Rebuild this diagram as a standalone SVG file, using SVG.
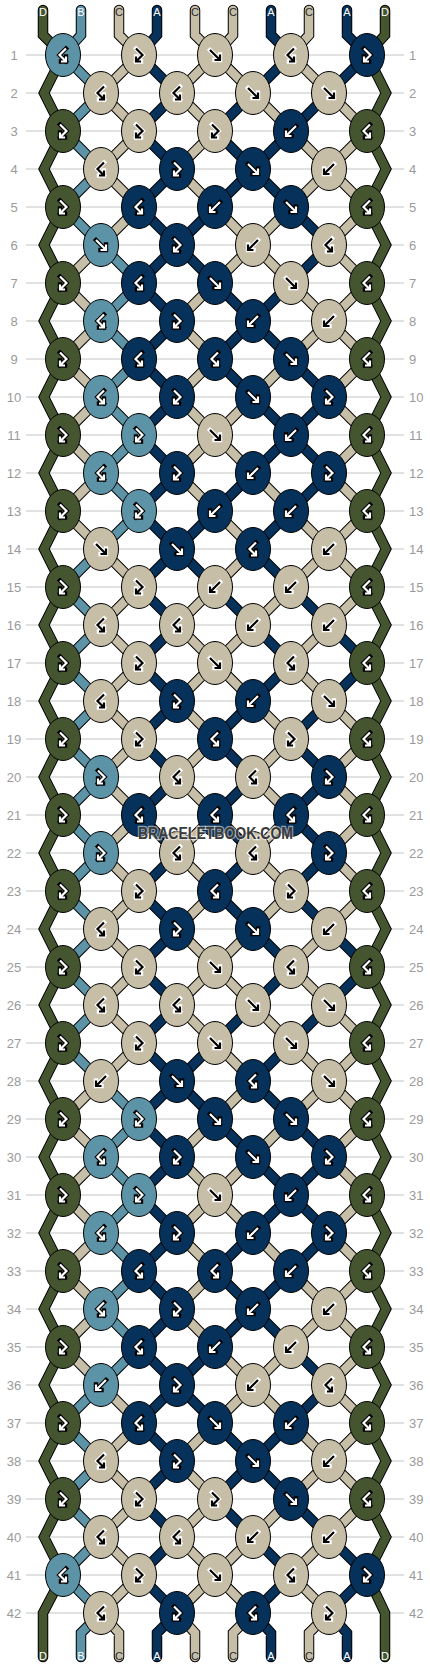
<svg xmlns="http://www.w3.org/2000/svg" width="430" height="1668" viewBox="0 0 430 1668">
<style>
text{font-family:"Liberation Sans",Arial,sans-serif}
.rl{fill:none;stroke:#c4c4c4;stroke-width:1}
.num{fill:#9a9a9a;font-size:13px}
.nl{text-anchor:middle}
.ol{fill:none;stroke:#000;stroke-width:10.5;stroke-linecap:round;stroke-linejoin:miter}
.sA,.sB,.sC,.sD{fill:none;stroke-width:8.5;stroke-linecap:round;stroke-linejoin:miter}
.sA{stroke:#06315a}.sB{stroke:#5c93a6}.sC{stroke:#c6bea7}.sD{stroke:#445530}
#nodes ellipse{stroke:#000;stroke-width:1}
.A ellipse{fill:#06315a}.B ellipse{fill:#5c93a6}.C ellipse{fill:#c6bea7}.D ellipse{fill:#445530}
#nodes use{fill:none;stroke-linejoin:miter}
#nodes use.o{stroke-width:4.4;stroke-linecap:square}
#nodes use.i{stroke-width:2.2;stroke-linecap:butt}
.A .o,.B .o,.D .o{stroke:#000}.A .i,.B .i,.D .i{stroke:#fff}
.C .o{stroke:#fff}.C .i{stroke:#000}
.lbl{font-size:11px;text-anchor:middle}
.lw{fill:#fff}.ld{fill:#2a2a2a}
.wm{font-size:16px;font-weight:bold;fill:#3a3a3a;stroke:#fff;stroke-opacity:.55;stroke-width:2.5;paint-order:stroke;text-anchor:middle}
</style>
<defs>
<path id="gF" d="M-5-5L4.5 4.5M5-.5V5H-.5"/>
<path id="gK" d="M5-5L-4.5 4.5M-5-.5V5H.5"/>
<path id="gR" d="M-3-6.5L3.5 0-3 6.5M-3 1.5V6.5H2"/>
<path id="gL" d="M3-6.5L-3.5 0 3 6.5M3 1.5V6.5H-2"/>
<path id="cA" d="M157 10V35L139 55
M139 55l38 38-38 38 38 38-38 38 38 38-38 38 38 38-38 38 38 38-38 38
M139 435l38 38-38 38 38 38-38 38 38 38-38 38 38 38-38 38 38 38-38 38
M139 815l38 38-38 38 38 38-38 38 38 38-38 38 38 38-38 38 38 38-38 38
M139 1195l38 38-38 38 38 38-38 38 38 38-38 38 38 38-38 38 38 38-38 38
M139 1575L177 1613l-20 20v24
M215 207l-38 38 38 38M215 511l-38 38 38 38M215 1043l-38 38 38 38M215 1347l-38 38 38 38
M253 93l-38 38 38 38-38 38M215 283l38 38-38 38 38 38M253 473l-38 38M215 587l38 38M253 701l-38 38 38 38-38 38 38 38-38 38 38 38M253 1005l-38 38M215 1119l38 38M253 1233l-38 38 38 38-38 38M215 1423l38 38-38 38 38 38
M271 10V35L291 55l-38 38M291 131l-38 38 38 38M291 283l-38 38 38 38M253 397l38 38-38 38M291 511l-38 38 38 38M253 625l38 38-38 38M253 929l38 38-38 38M291 1043l-38 38 38 38M253 1157l38 38-38 38M291 1271l-38 38 38 38M291 1423l-38 38 38 38M253 1537l38 38-38 38l18 20v24
M329 93l-38 38M291 207l38 38-38 38M291 359l38 38-38 38 38 38-38 38M291 587l38 38M329 701l-38 38 38 38-38 38 38 38-38 38 38 38M329 1005l-38 38M291 1119l38 38-38 38 38 38-38 38M291 1347l38 38-38 38M291 1499l38 38
M347 10V35L367 55l-38 38M329 625l38 38-38 38M329 929l38 38-38 38M329 1537l38 38-38 38l18 20v24"/>
<path id="cB" d="M81 10V35L63 55l38 38-38 38 38 38-38 38 38 38
M101 549l-38 38 38 38-38 38 38 38-38 38 38 38-38 38 38 38-38 38 38 38-38 38 38 38-38 38 38 38
M101 1385l-38 38 38 38-38 38 38 38-38 38 38 38l-20 20v24
M101 245l38 38-38 38 38 38-38 38 38 38-38 38 38 38-38 38
M101 1081l38 38-38 38 38 38-38 38 38 38-38 38 38 38-38 38"/>
<path id="cC" d="M101 245l-38 38 38 38-38 38 38 38-38 38 38 38-38 38 38 38M101 1081l-38 38 38 38-38 38 38 38-38 38 38 38-38 38 38 38
M119 10V35L139 55l-38 38 38 38-38 38 38 38-38 38
M101 549l38 38-38 38 38 38-38 38 38 38-38 38 38 38-38 38 38 38-38 38 38 38-38 38 38 38-38 38
M101 1385l38 38-38 38 38 38-38 38 38 38-38 38l18 20v24
M195 10V35L215 55l-38 38 38 38-38 38 38 38M215 283l-38 38 38 38-38 38 38 38-38 38 38 38
M215 587l-38 38 38 38-38 38 38 38-38 38 38 38-38 38 38 38-38 38 38 38-38 38 38 38
M215 1119l-38 38 38 38-38 38 38 38-38 38 38 38M215 1423l-38 38 38 38-38 38 38 38-38 38l18 20v24
M233 10V35L215 55l38 38M215 207l38 38-38 38M253 397l-38 38 38 38M215 511l38 38-38 38M253 625l-38 38 38 38M253 929l-38 38 38 38M215 1043l38 38-38 38M253 1157l-38 38 38 38M215 1347l38 38-38 38M253 1537l-38 38 38 38l-20 20v24
M253 93l38 38M291 207l-38 38 38 38M291 359l-38 38M253 473l38 38M291 587l-38 38M253 701l38 38-38 38 38 38-38 38 38 38-38 38M253 1005l38 38M291 1119l-38 38M253 1233l38 38M291 1347l-38 38 38 38M291 1499l-38 38
M309 10V35L291 55l38 38M291 131l38 38-38 38M291 283l38 38-38 38M291 511l38 38-38 38M329 625l-38 38 38 38M329 929l-38 38 38 38M291 1043l38 38-38 38M291 1271l38 38-38 38M291 1423l38 38-38 38M329 1537l-38 38 38 38l-20 20v24
M329 93l38 38-38 38 38 38-38 38 38 38-38 38 38 38-38 38 38 38-38 38 38 38-38 38 38 38-38 38
M329 701l38 38-38 38 38 38-38 38 38 38-38 38
M329 1005l38 38-38 38 38 38-38 38 38 38-38 38 38 38-38 38 38 38-38 38 38 38-38 38 38 38-38 38"/>
<path id="cD" d="M43 10V35L63 55l-19 38 19 38-19 38 19 38-19 38 19 38-19 38 19 38-19 38 19 38-19 38 19 38-19 38 19 38-19 38 19 38-19 38 19 38-19 38 19 38-19 38 19 38-19 38 19 38-19 38 19 38-19 38 19 38-19 38 19 38-19 38 19 38-19 38 19 38-19 38 19 38-19 38 19 38-19 38 19 38L43 1613V1657
M385 10V35L367 55l19 38-19 38 19 38-19 38 19 38-19 38 19 38-19 38 19 38-19 38 19 38-19 38 19 38-19 38 19 38-19 38 19 38-19 38 19 38-19 38 19 38-19 38 19 38-19 38 19 38-19 38 19 38-19 38 19 38-19 38 19 38-19 38 19 38-19 38 19 38-19 38 19 38-19 38 19 38-19 38L385 1613V1657"/>
</defs>
<rect width="430" height="1668" fill="#fff"/>
<g id="grid">
<path class="rl" d="M26 55H404M26 93H404M26 131H404M26 169H404M26 207H404M26 245H404M26 283H404M26 321H404M26 359H404M26 397H404M26 435H404M26 473H404M26 511H404M26 549H404M26 587H404M26 625H404M26 663H404M26 701H404M26 739H404M26 777H404M26 815H404M26 853H404M26 891H404M26 929H404M26 967H404M26 1005H404M26 1043H404M26 1081H404M26 1119H404M26 1157H404M26 1195H404M26 1233H404M26 1271H404M26 1309H404M26 1347H404M26 1385H404M26 1423H404M26 1461H404M26 1499H404M26 1537H404M26 1575H404M26 1613H404"/>
<g class="num nl">
<text x="14" y="59.5">1</text><text x="14" y="97.5">2</text><text x="14" y="135.5">3</text><text x="14" y="173.5">4</text><text x="14" y="211.5">5</text><text x="14" y="249.5">6</text><text x="14" y="287.5">7</text><text x="14" y="325.5">8</text><text x="14" y="363.5">9</text><text x="14" y="401.5">10</text><text x="14" y="439.5">11</text><text x="14" y="477.5">12</text><text x="14" y="515.5">13</text><text x="14" y="553.5">14</text><text x="14" y="591.5">15</text><text x="14" y="629.5">16</text><text x="14" y="667.5">17</text><text x="14" y="705.5">18</text><text x="14" y="743.5">19</text><text x="14" y="781.5">20</text><text x="14" y="819.5">21</text><text x="14" y="857.5">22</text><text x="14" y="895.5">23</text><text x="14" y="933.5">24</text><text x="14" y="971.5">25</text><text x="14" y="1009.5">26</text><text x="14" y="1047.5">27</text><text x="14" y="1085.5">28</text><text x="14" y="1123.5">29</text><text x="14" y="1161.5">30</text><text x="14" y="1199.5">31</text><text x="14" y="1237.5">32</text><text x="14" y="1275.5">33</text><text x="14" y="1313.5">34</text><text x="14" y="1351.5">35</text><text x="14" y="1389.5">36</text><text x="14" y="1427.5">37</text><text x="14" y="1465.5">38</text><text x="14" y="1503.5">39</text><text x="14" y="1541.5">40</text><text x="14" y="1579.5">41</text><text x="14" y="1617.5">42</text>
</g>
<g class="num">
<text x="409" y="59.5">1</text><text x="409" y="97.5">2</text><text x="409" y="135.5">3</text><text x="409" y="173.5">4</text><text x="409" y="211.5">5</text><text x="409" y="249.5">6</text><text x="409" y="287.5">7</text><text x="409" y="325.5">8</text><text x="409" y="363.5">9</text><text x="409" y="401.5">10</text><text x="409" y="439.5">11</text><text x="409" y="477.5">12</text><text x="409" y="515.5">13</text><text x="409" y="553.5">14</text><text x="409" y="591.5">15</text><text x="409" y="629.5">16</text><text x="409" y="667.5">17</text><text x="409" y="705.5">18</text><text x="409" y="743.5">19</text><text x="409" y="781.5">20</text><text x="409" y="819.5">21</text><text x="409" y="857.5">22</text><text x="409" y="895.5">23</text><text x="409" y="933.5">24</text><text x="409" y="971.5">25</text><text x="409" y="1009.5">26</text><text x="409" y="1047.5">27</text><text x="409" y="1085.5">28</text><text x="409" y="1123.5">29</text><text x="409" y="1161.5">30</text><text x="409" y="1199.5">31</text><text x="409" y="1237.5">32</text><text x="409" y="1275.5">33</text><text x="409" y="1313.5">34</text><text x="409" y="1351.5">35</text><text x="409" y="1389.5">36</text><text x="409" y="1427.5">37</text><text x="409" y="1465.5">38</text><text x="409" y="1503.5">39</text><text x="409" y="1541.5">40</text><text x="409" y="1579.5">41</text><text x="409" y="1617.5">42</text>
</g>
</g>
<g id="connectors">
<use href="#cD" class="ol"/><use href="#cA" class="ol"/><use href="#cB" class="ol"/><use href="#cC" class="ol"/>
<use href="#cD" class="sD"/><use href="#cA" class="sA"/><use href="#cB" class="sB"/><use href="#cC" class="sC"/>
</g>
<g id="strand-labels" class="lbl">
<text class="lw" x="43" y="16">D</text><text class="lw" x="81" y="16">B</text><text class="ld" x="119" y="16">C</text><text class="lw" x="157" y="16">A</text><text class="ld" x="195" y="16">C</text><text class="ld" x="233" y="16">C</text><text class="lw" x="271" y="16">A</text><text class="ld" x="309" y="16">C</text><text class="lw" x="347" y="16">A</text><text class="lw" x="385" y="16">D</text>
<text class="lw" x="43" y="1660">D</text><text class="lw" x="81" y="1660">B</text><text class="ld" x="119" y="1660">C</text><text class="lw" x="157" y="1660">A</text><text class="ld" x="195" y="1660">C</text><text class="ld" x="233" y="1660">C</text><text class="lw" x="271" y="1660">A</text><text class="ld" x="309" y="1660">C</text><text class="lw" x="347" y="1660">A</text><text class="lw" x="385" y="1660">D</text>
</g>
<g id="nodes">
<g id="n1_1" class="B" transform="translate(63 55)"><ellipse rx="17.5" ry="21.5"/><use href="#gL" class="o"/><use href="#gL" class="i"/></g>
<g id="n1_2" class="C" transform="translate(139 55)"><ellipse rx="17.5" ry="21.5"/><use href="#gR" class="o"/><use href="#gR" class="i"/></g>
<g id="n1_3" class="C" transform="translate(215 55)"><ellipse rx="17.5" ry="21.5"/><use href="#gF" class="o"/><use href="#gF" class="i"/></g>
<g id="n1_4" class="C" transform="translate(291 55)"><ellipse rx="17.5" ry="21.5"/><use href="#gL" class="o"/><use href="#gL" class="i"/></g>
<g id="n1_5" class="A" transform="translate(367 55)"><ellipse rx="17.5" ry="21.5"/><use href="#gR" class="o"/><use href="#gR" class="i"/></g>
<g id="n2_1" class="C" transform="translate(101 93)"><ellipse rx="17.5" ry="21.5"/><use href="#gL" class="o"/><use href="#gL" class="i"/></g>
<g id="n2_2" class="C" transform="translate(177 93)"><ellipse rx="17.5" ry="21.5"/><use href="#gL" class="o"/><use href="#gL" class="i"/></g>
<g id="n2_3" class="C" transform="translate(253 93)"><ellipse rx="17.5" ry="21.5"/><use href="#gF" class="o"/><use href="#gF" class="i"/></g>
<g id="n2_4" class="C" transform="translate(329 93)"><ellipse rx="17.5" ry="21.5"/><use href="#gF" class="o"/><use href="#gF" class="i"/></g>
<g id="n3_1" class="D" transform="translate(63 131)"><ellipse rx="17.5" ry="21.5"/><use href="#gR" class="o"/><use href="#gR" class="i"/></g>
<g id="n3_2" class="C" transform="translate(139 131)"><ellipse rx="17.5" ry="21.5"/><use href="#gR" class="o"/><use href="#gR" class="i"/></g>
<g id="n3_3" class="C" transform="translate(215 131)"><ellipse rx="17.5" ry="21.5"/><use href="#gR" class="o"/><use href="#gR" class="i"/></g>
<g id="n3_4" class="A" transform="translate(291 131)"><ellipse rx="17.5" ry="21.5"/><use href="#gK" class="o"/><use href="#gK" class="i"/></g>
<g id="n3_5" class="D" transform="translate(367 131)"><ellipse rx="17.5" ry="21.5"/><use href="#gL" class="o"/><use href="#gL" class="i"/></g>
<g id="n4_1" class="C" transform="translate(101 169)"><ellipse rx="17.5" ry="21.5"/><use href="#gL" class="o"/><use href="#gL" class="i"/></g>
<g id="n4_2" class="A" transform="translate(177 169)"><ellipse rx="17.5" ry="21.5"/><use href="#gR" class="o"/><use href="#gR" class="i"/></g>
<g id="n4_3" class="A" transform="translate(253 169)"><ellipse rx="17.5" ry="21.5"/><use href="#gF" class="o"/><use href="#gF" class="i"/></g>
<g id="n4_4" class="C" transform="translate(329 169)"><ellipse rx="17.5" ry="21.5"/><use href="#gK" class="o"/><use href="#gK" class="i"/></g>
<g id="n5_1" class="D" transform="translate(63 207)"><ellipse rx="17.5" ry="21.5"/><use href="#gR" class="o"/><use href="#gR" class="i"/></g>
<g id="n5_2" class="A" transform="translate(139 207)"><ellipse rx="17.5" ry="21.5"/><use href="#gL" class="o"/><use href="#gL" class="i"/></g>
<g id="n5_3" class="A" transform="translate(215 207)"><ellipse rx="17.5" ry="21.5"/><use href="#gK" class="o"/><use href="#gK" class="i"/></g>
<g id="n5_4" class="A" transform="translate(291 207)"><ellipse rx="17.5" ry="21.5"/><use href="#gF" class="o"/><use href="#gF" class="i"/></g>
<g id="n5_5" class="D" transform="translate(367 207)"><ellipse rx="17.5" ry="21.5"/><use href="#gL" class="o"/><use href="#gL" class="i"/></g>
<g id="n6_1" class="B" transform="translate(101 245)"><ellipse rx="17.5" ry="21.5"/><use href="#gF" class="o"/><use href="#gF" class="i"/></g>
<g id="n6_2" class="A" transform="translate(177 245)"><ellipse rx="17.5" ry="21.5"/><use href="#gR" class="o"/><use href="#gR" class="i"/></g>
<g id="n6_3" class="C" transform="translate(253 245)"><ellipse rx="17.5" ry="21.5"/><use href="#gK" class="o"/><use href="#gK" class="i"/></g>
<g id="n6_4" class="C" transform="translate(329 245)"><ellipse rx="17.5" ry="21.5"/><use href="#gL" class="o"/><use href="#gL" class="i"/></g>
<g id="n7_1" class="D" transform="translate(63 283)"><ellipse rx="17.5" ry="21.5"/><use href="#gR" class="o"/><use href="#gR" class="i"/></g>
<g id="n7_2" class="A" transform="translate(139 283)"><ellipse rx="17.5" ry="21.5"/><use href="#gL" class="o"/><use href="#gL" class="i"/></g>
<g id="n7_3" class="A" transform="translate(215 283)"><ellipse rx="17.5" ry="21.5"/><use href="#gF" class="o"/><use href="#gF" class="i"/></g>
<g id="n7_4" class="C" transform="translate(291 283)"><ellipse rx="17.5" ry="21.5"/><use href="#gF" class="o"/><use href="#gF" class="i"/></g>
<g id="n7_5" class="D" transform="translate(367 283)"><ellipse rx="17.5" ry="21.5"/><use href="#gL" class="o"/><use href="#gL" class="i"/></g>
<g id="n8_1" class="B" transform="translate(101 321)"><ellipse rx="17.5" ry="21.5"/><use href="#gL" class="o"/><use href="#gL" class="i"/></g>
<g id="n8_2" class="A" transform="translate(177 321)"><ellipse rx="17.5" ry="21.5"/><use href="#gR" class="o"/><use href="#gR" class="i"/></g>
<g id="n8_3" class="A" transform="translate(253 321)"><ellipse rx="17.5" ry="21.5"/><use href="#gK" class="o"/><use href="#gK" class="i"/></g>
<g id="n8_4" class="C" transform="translate(329 321)"><ellipse rx="17.5" ry="21.5"/><use href="#gK" class="o"/><use href="#gK" class="i"/></g>
<g id="n9_1" class="D" transform="translate(63 359)"><ellipse rx="17.5" ry="21.5"/><use href="#gR" class="o"/><use href="#gR" class="i"/></g>
<g id="n9_2" class="A" transform="translate(139 359)"><ellipse rx="17.5" ry="21.5"/><use href="#gL" class="o"/><use href="#gL" class="i"/></g>
<g id="n9_3" class="A" transform="translate(215 359)"><ellipse rx="17.5" ry="21.5"/><use href="#gL" class="o"/><use href="#gL" class="i"/></g>
<g id="n9_4" class="A" transform="translate(291 359)"><ellipse rx="17.5" ry="21.5"/><use href="#gF" class="o"/><use href="#gF" class="i"/></g>
<g id="n9_5" class="D" transform="translate(367 359)"><ellipse rx="17.5" ry="21.5"/><use href="#gL" class="o"/><use href="#gL" class="i"/></g>
<g id="n10_1" class="B" transform="translate(101 397)"><ellipse rx="17.5" ry="21.5"/><use href="#gL" class="o"/><use href="#gL" class="i"/></g>
<g id="n10_2" class="A" transform="translate(177 397)"><ellipse rx="17.5" ry="21.5"/><use href="#gR" class="o"/><use href="#gR" class="i"/></g>
<g id="n10_3" class="A" transform="translate(253 397)"><ellipse rx="17.5" ry="21.5"/><use href="#gF" class="o"/><use href="#gF" class="i"/></g>
<g id="n10_4" class="A" transform="translate(329 397)"><ellipse rx="17.5" ry="21.5"/><use href="#gR" class="o"/><use href="#gR" class="i"/></g>
<g id="n11_1" class="D" transform="translate(63 435)"><ellipse rx="17.5" ry="21.5"/><use href="#gR" class="o"/><use href="#gR" class="i"/></g>
<g id="n11_2" class="B" transform="translate(139 435)"><ellipse rx="17.5" ry="21.5"/><use href="#gR" class="o"/><use href="#gR" class="i"/></g>
<g id="n11_3" class="C" transform="translate(215 435)"><ellipse rx="17.5" ry="21.5"/><use href="#gF" class="o"/><use href="#gF" class="i"/></g>
<g id="n11_4" class="A" transform="translate(291 435)"><ellipse rx="17.5" ry="21.5"/><use href="#gK" class="o"/><use href="#gK" class="i"/></g>
<g id="n11_5" class="D" transform="translate(367 435)"><ellipse rx="17.5" ry="21.5"/><use href="#gL" class="o"/><use href="#gL" class="i"/></g>
<g id="n12_1" class="B" transform="translate(101 473)"><ellipse rx="17.5" ry="21.5"/><use href="#gL" class="o"/><use href="#gL" class="i"/></g>
<g id="n12_2" class="A" transform="translate(177 473)"><ellipse rx="17.5" ry="21.5"/><use href="#gR" class="o"/><use href="#gR" class="i"/></g>
<g id="n12_3" class="A" transform="translate(253 473)"><ellipse rx="17.5" ry="21.5"/><use href="#gK" class="o"/><use href="#gK" class="i"/></g>
<g id="n12_4" class="A" transform="translate(329 473)"><ellipse rx="17.5" ry="21.5"/><use href="#gR" class="o"/><use href="#gR" class="i"/></g>
<g id="n13_1" class="D" transform="translate(63 511)"><ellipse rx="17.5" ry="21.5"/><use href="#gR" class="o"/><use href="#gR" class="i"/></g>
<g id="n13_2" class="B" transform="translate(139 511)"><ellipse rx="17.5" ry="21.5"/><use href="#gR" class="o"/><use href="#gR" class="i"/></g>
<g id="n13_3" class="A" transform="translate(215 511)"><ellipse rx="17.5" ry="21.5"/><use href="#gK" class="o"/><use href="#gK" class="i"/></g>
<g id="n13_4" class="A" transform="translate(291 511)"><ellipse rx="17.5" ry="21.5"/><use href="#gK" class="o"/><use href="#gK" class="i"/></g>
<g id="n13_5" class="D" transform="translate(367 511)"><ellipse rx="17.5" ry="21.5"/><use href="#gL" class="o"/><use href="#gL" class="i"/></g>
<g id="n14_1" class="C" transform="translate(101 549)"><ellipse rx="17.5" ry="21.5"/><use href="#gF" class="o"/><use href="#gF" class="i"/></g>
<g id="n14_2" class="A" transform="translate(177 549)"><ellipse rx="17.5" ry="21.5"/><use href="#gF" class="o"/><use href="#gF" class="i"/></g>
<g id="n14_3" class="A" transform="translate(253 549)"><ellipse rx="17.5" ry="21.5"/><use href="#gL" class="o"/><use href="#gL" class="i"/></g>
<g id="n14_4" class="C" transform="translate(329 549)"><ellipse rx="17.5" ry="21.5"/><use href="#gK" class="o"/><use href="#gK" class="i"/></g>
<g id="n15_1" class="D" transform="translate(63 587)"><ellipse rx="17.5" ry="21.5"/><use href="#gR" class="o"/><use href="#gR" class="i"/></g>
<g id="n15_2" class="C" transform="translate(139 587)"><ellipse rx="17.5" ry="21.5"/><use href="#gR" class="o"/><use href="#gR" class="i"/></g>
<g id="n15_3" class="C" transform="translate(215 587)"><ellipse rx="17.5" ry="21.5"/><use href="#gK" class="o"/><use href="#gK" class="i"/></g>
<g id="n15_4" class="C" transform="translate(291 587)"><ellipse rx="17.5" ry="21.5"/><use href="#gK" class="o"/><use href="#gK" class="i"/></g>
<g id="n15_5" class="D" transform="translate(367 587)"><ellipse rx="17.5" ry="21.5"/><use href="#gL" class="o"/><use href="#gL" class="i"/></g>
<g id="n16_1" class="C" transform="translate(101 625)"><ellipse rx="17.5" ry="21.5"/><use href="#gL" class="o"/><use href="#gL" class="i"/></g>
<g id="n16_2" class="C" transform="translate(177 625)"><ellipse rx="17.5" ry="21.5"/><use href="#gL" class="o"/><use href="#gL" class="i"/></g>
<g id="n16_3" class="C" transform="translate(253 625)"><ellipse rx="17.5" ry="21.5"/><use href="#gK" class="o"/><use href="#gK" class="i"/></g>
<g id="n16_4" class="C" transform="translate(329 625)"><ellipse rx="17.5" ry="21.5"/><use href="#gK" class="o"/><use href="#gK" class="i"/></g>
<g id="n17_1" class="D" transform="translate(63 663)"><ellipse rx="17.5" ry="21.5"/><use href="#gR" class="o"/><use href="#gR" class="i"/></g>
<g id="n17_2" class="C" transform="translate(139 663)"><ellipse rx="17.5" ry="21.5"/><use href="#gR" class="o"/><use href="#gR" class="i"/></g>
<g id="n17_3" class="C" transform="translate(215 663)"><ellipse rx="17.5" ry="21.5"/><use href="#gF" class="o"/><use href="#gF" class="i"/></g>
<g id="n17_4" class="C" transform="translate(291 663)"><ellipse rx="17.5" ry="21.5"/><use href="#gL" class="o"/><use href="#gL" class="i"/></g>
<g id="n17_5" class="D" transform="translate(367 663)"><ellipse rx="17.5" ry="21.5"/><use href="#gL" class="o"/><use href="#gL" class="i"/></g>
<g id="n18_1" class="C" transform="translate(101 701)"><ellipse rx="17.5" ry="21.5"/><use href="#gL" class="o"/><use href="#gL" class="i"/></g>
<g id="n18_2" class="A" transform="translate(177 701)"><ellipse rx="17.5" ry="21.5"/><use href="#gR" class="o"/><use href="#gR" class="i"/></g>
<g id="n18_3" class="A" transform="translate(253 701)"><ellipse rx="17.5" ry="21.5"/><use href="#gK" class="o"/><use href="#gK" class="i"/></g>
<g id="n18_4" class="C" transform="translate(329 701)"><ellipse rx="17.5" ry="21.5"/><use href="#gF" class="o"/><use href="#gF" class="i"/></g>
<g id="n19_1" class="D" transform="translate(63 739)"><ellipse rx="17.5" ry="21.5"/><use href="#gR" class="o"/><use href="#gR" class="i"/></g>
<g id="n19_2" class="C" transform="translate(139 739)"><ellipse rx="17.5" ry="21.5"/><use href="#gR" class="o"/><use href="#gR" class="i"/></g>
<g id="n19_3" class="A" transform="translate(215 739)"><ellipse rx="17.5" ry="21.5"/><use href="#gL" class="o"/><use href="#gL" class="i"/></g>
<g id="n19_4" class="C" transform="translate(291 739)"><ellipse rx="17.5" ry="21.5"/><use href="#gR" class="o"/><use href="#gR" class="i"/></g>
<g id="n19_5" class="D" transform="translate(367 739)"><ellipse rx="17.5" ry="21.5"/><use href="#gL" class="o"/><use href="#gL" class="i"/></g>
<g id="n20_1" class="B" transform="translate(101 777)"><ellipse rx="17.5" ry="21.5"/><use href="#gR" class="o"/><use href="#gR" class="i"/></g>
<g id="n20_2" class="C" transform="translate(177 777)"><ellipse rx="17.5" ry="21.5"/><use href="#gL" class="o"/><use href="#gL" class="i"/></g>
<g id="n20_3" class="C" transform="translate(253 777)"><ellipse rx="17.5" ry="21.5"/><use href="#gL" class="o"/><use href="#gL" class="i"/></g>
<g id="n20_4" class="A" transform="translate(329 777)"><ellipse rx="17.5" ry="21.5"/><use href="#gR" class="o"/><use href="#gR" class="i"/></g>
<g id="n21_1" class="D" transform="translate(63 815)"><ellipse rx="17.5" ry="21.5"/><use href="#gR" class="o"/><use href="#gR" class="i"/></g>
<g id="n21_2" class="A" transform="translate(139 815)"><ellipse rx="17.5" ry="21.5"/><use href="#gL" class="o"/><use href="#gL" class="i"/></g>
<g id="n21_3" class="A" transform="translate(215 815)"><ellipse rx="17.5" ry="21.5"/><use href="#gL" class="o"/><use href="#gL" class="i"/></g>
<g id="n21_4" class="A" transform="translate(291 815)"><ellipse rx="17.5" ry="21.5"/><use href="#gL" class="o"/><use href="#gL" class="i"/></g>
<g id="n21_5" class="D" transform="translate(367 815)"><ellipse rx="17.5" ry="21.5"/><use href="#gL" class="o"/><use href="#gL" class="i"/></g>
<g id="n22_1" class="B" transform="translate(101 853)"><ellipse rx="17.5" ry="21.5"/><use href="#gR" class="o"/><use href="#gR" class="i"/></g>
<g id="n22_2" class="C" transform="translate(177 853)"><ellipse rx="17.5" ry="21.5"/><use href="#gL" class="o"/><use href="#gL" class="i"/></g>
<g id="n22_3" class="C" transform="translate(253 853)"><ellipse rx="17.5" ry="21.5"/><use href="#gL" class="o"/><use href="#gL" class="i"/></g>
<g id="n22_4" class="A" transform="translate(329 853)"><ellipse rx="17.5" ry="21.5"/><use href="#gR" class="o"/><use href="#gR" class="i"/></g>
<g id="n23_1" class="D" transform="translate(63 891)"><ellipse rx="17.5" ry="21.5"/><use href="#gR" class="o"/><use href="#gR" class="i"/></g>
<g id="n23_2" class="C" transform="translate(139 891)"><ellipse rx="17.5" ry="21.5"/><use href="#gR" class="o"/><use href="#gR" class="i"/></g>
<g id="n23_3" class="A" transform="translate(215 891)"><ellipse rx="17.5" ry="21.5"/><use href="#gL" class="o"/><use href="#gL" class="i"/></g>
<g id="n23_4" class="C" transform="translate(291 891)"><ellipse rx="17.5" ry="21.5"/><use href="#gR" class="o"/><use href="#gR" class="i"/></g>
<g id="n23_5" class="D" transform="translate(367 891)"><ellipse rx="17.5" ry="21.5"/><use href="#gL" class="o"/><use href="#gL" class="i"/></g>
<g id="n24_1" class="C" transform="translate(101 929)"><ellipse rx="17.5" ry="21.5"/><use href="#gL" class="o"/><use href="#gL" class="i"/></g>
<g id="n24_2" class="A" transform="translate(177 929)"><ellipse rx="17.5" ry="21.5"/><use href="#gR" class="o"/><use href="#gR" class="i"/></g>
<g id="n24_3" class="A" transform="translate(253 929)"><ellipse rx="17.5" ry="21.5"/><use href="#gF" class="o"/><use href="#gF" class="i"/></g>
<g id="n24_4" class="C" transform="translate(329 929)"><ellipse rx="17.5" ry="21.5"/><use href="#gK" class="o"/><use href="#gK" class="i"/></g>
<g id="n25_1" class="D" transform="translate(63 967)"><ellipse rx="17.5" ry="21.5"/><use href="#gR" class="o"/><use href="#gR" class="i"/></g>
<g id="n25_2" class="C" transform="translate(139 967)"><ellipse rx="17.5" ry="21.5"/><use href="#gR" class="o"/><use href="#gR" class="i"/></g>
<g id="n25_3" class="C" transform="translate(215 967)"><ellipse rx="17.5" ry="21.5"/><use href="#gF" class="o"/><use href="#gF" class="i"/></g>
<g id="n25_4" class="C" transform="translate(291 967)"><ellipse rx="17.5" ry="21.5"/><use href="#gL" class="o"/><use href="#gL" class="i"/></g>
<g id="n25_5" class="D" transform="translate(367 967)"><ellipse rx="17.5" ry="21.5"/><use href="#gL" class="o"/><use href="#gL" class="i"/></g>
<g id="n26_1" class="C" transform="translate(101 1005)"><ellipse rx="17.5" ry="21.5"/><use href="#gL" class="o"/><use href="#gL" class="i"/></g>
<g id="n26_2" class="C" transform="translate(177 1005)"><ellipse rx="17.5" ry="21.5"/><use href="#gL" class="o"/><use href="#gL" class="i"/></g>
<g id="n26_3" class="C" transform="translate(253 1005)"><ellipse rx="17.5" ry="21.5"/><use href="#gF" class="o"/><use href="#gF" class="i"/></g>
<g id="n26_4" class="C" transform="translate(329 1005)"><ellipse rx="17.5" ry="21.5"/><use href="#gF" class="o"/><use href="#gF" class="i"/></g>
<g id="n27_1" class="D" transform="translate(63 1043)"><ellipse rx="17.5" ry="21.5"/><use href="#gR" class="o"/><use href="#gR" class="i"/></g>
<g id="n27_2" class="C" transform="translate(139 1043)"><ellipse rx="17.5" ry="21.5"/><use href="#gR" class="o"/><use href="#gR" class="i"/></g>
<g id="n27_3" class="C" transform="translate(215 1043)"><ellipse rx="17.5" ry="21.5"/><use href="#gF" class="o"/><use href="#gF" class="i"/></g>
<g id="n27_4" class="C" transform="translate(291 1043)"><ellipse rx="17.5" ry="21.5"/><use href="#gF" class="o"/><use href="#gF" class="i"/></g>
<g id="n27_5" class="D" transform="translate(367 1043)"><ellipse rx="17.5" ry="21.5"/><use href="#gL" class="o"/><use href="#gL" class="i"/></g>
<g id="n28_1" class="C" transform="translate(101 1081)"><ellipse rx="17.5" ry="21.5"/><use href="#gK" class="o"/><use href="#gK" class="i"/></g>
<g id="n28_2" class="A" transform="translate(177 1081)"><ellipse rx="17.5" ry="21.5"/><use href="#gF" class="o"/><use href="#gF" class="i"/></g>
<g id="n28_3" class="A" transform="translate(253 1081)"><ellipse rx="17.5" ry="21.5"/><use href="#gL" class="o"/><use href="#gL" class="i"/></g>
<g id="n28_4" class="C" transform="translate(329 1081)"><ellipse rx="17.5" ry="21.5"/><use href="#gF" class="o"/><use href="#gF" class="i"/></g>
<g id="n29_1" class="D" transform="translate(63 1119)"><ellipse rx="17.5" ry="21.5"/><use href="#gR" class="o"/><use href="#gR" class="i"/></g>
<g id="n29_2" class="B" transform="translate(139 1119)"><ellipse rx="17.5" ry="21.5"/><use href="#gR" class="o"/><use href="#gR" class="i"/></g>
<g id="n29_3" class="A" transform="translate(215 1119)"><ellipse rx="17.5" ry="21.5"/><use href="#gF" class="o"/><use href="#gF" class="i"/></g>
<g id="n29_4" class="A" transform="translate(291 1119)"><ellipse rx="17.5" ry="21.5"/><use href="#gF" class="o"/><use href="#gF" class="i"/></g>
<g id="n29_5" class="D" transform="translate(367 1119)"><ellipse rx="17.5" ry="21.5"/><use href="#gL" class="o"/><use href="#gL" class="i"/></g>
<g id="n30_1" class="B" transform="translate(101 1157)"><ellipse rx="17.5" ry="21.5"/><use href="#gL" class="o"/><use href="#gL" class="i"/></g>
<g id="n30_2" class="A" transform="translate(177 1157)"><ellipse rx="17.5" ry="21.5"/><use href="#gR" class="o"/><use href="#gR" class="i"/></g>
<g id="n30_3" class="A" transform="translate(253 1157)"><ellipse rx="17.5" ry="21.5"/><use href="#gF" class="o"/><use href="#gF" class="i"/></g>
<g id="n30_4" class="A" transform="translate(329 1157)"><ellipse rx="17.5" ry="21.5"/><use href="#gR" class="o"/><use href="#gR" class="i"/></g>
<g id="n31_1" class="D" transform="translate(63 1195)"><ellipse rx="17.5" ry="21.5"/><use href="#gR" class="o"/><use href="#gR" class="i"/></g>
<g id="n31_2" class="B" transform="translate(139 1195)"><ellipse rx="17.5" ry="21.5"/><use href="#gR" class="o"/><use href="#gR" class="i"/></g>
<g id="n31_3" class="C" transform="translate(215 1195)"><ellipse rx="17.5" ry="21.5"/><use href="#gF" class="o"/><use href="#gF" class="i"/></g>
<g id="n31_4" class="A" transform="translate(291 1195)"><ellipse rx="17.5" ry="21.5"/><use href="#gK" class="o"/><use href="#gK" class="i"/></g>
<g id="n31_5" class="D" transform="translate(367 1195)"><ellipse rx="17.5" ry="21.5"/><use href="#gL" class="o"/><use href="#gL" class="i"/></g>
<g id="n32_1" class="B" transform="translate(101 1233)"><ellipse rx="17.5" ry="21.5"/><use href="#gL" class="o"/><use href="#gL" class="i"/></g>
<g id="n32_2" class="A" transform="translate(177 1233)"><ellipse rx="17.5" ry="21.5"/><use href="#gR" class="o"/><use href="#gR" class="i"/></g>
<g id="n32_3" class="A" transform="translate(253 1233)"><ellipse rx="17.5" ry="21.5"/><use href="#gK" class="o"/><use href="#gK" class="i"/></g>
<g id="n32_4" class="A" transform="translate(329 1233)"><ellipse rx="17.5" ry="21.5"/><use href="#gR" class="o"/><use href="#gR" class="i"/></g>
<g id="n33_1" class="D" transform="translate(63 1271)"><ellipse rx="17.5" ry="21.5"/><use href="#gR" class="o"/><use href="#gR" class="i"/></g>
<g id="n33_2" class="A" transform="translate(139 1271)"><ellipse rx="17.5" ry="21.5"/><use href="#gL" class="o"/><use href="#gL" class="i"/></g>
<g id="n33_3" class="A" transform="translate(215 1271)"><ellipse rx="17.5" ry="21.5"/><use href="#gL" class="o"/><use href="#gL" class="i"/></g>
<g id="n33_4" class="A" transform="translate(291 1271)"><ellipse rx="17.5" ry="21.5"/><use href="#gK" class="o"/><use href="#gK" class="i"/></g>
<g id="n33_5" class="D" transform="translate(367 1271)"><ellipse rx="17.5" ry="21.5"/><use href="#gL" class="o"/><use href="#gL" class="i"/></g>
<g id="n34_1" class="B" transform="translate(101 1309)"><ellipse rx="17.5" ry="21.5"/><use href="#gL" class="o"/><use href="#gL" class="i"/></g>
<g id="n34_2" class="A" transform="translate(177 1309)"><ellipse rx="17.5" ry="21.5"/><use href="#gR" class="o"/><use href="#gR" class="i"/></g>
<g id="n34_3" class="A" transform="translate(253 1309)"><ellipse rx="17.5" ry="21.5"/><use href="#gK" class="o"/><use href="#gK" class="i"/></g>
<g id="n34_4" class="C" transform="translate(329 1309)"><ellipse rx="17.5" ry="21.5"/><use href="#gK" class="o"/><use href="#gK" class="i"/></g>
<g id="n35_1" class="D" transform="translate(63 1347)"><ellipse rx="17.5" ry="21.5"/><use href="#gR" class="o"/><use href="#gR" class="i"/></g>
<g id="n35_2" class="A" transform="translate(139 1347)"><ellipse rx="17.5" ry="21.5"/><use href="#gL" class="o"/><use href="#gL" class="i"/></g>
<g id="n35_3" class="A" transform="translate(215 1347)"><ellipse rx="17.5" ry="21.5"/><use href="#gK" class="o"/><use href="#gK" class="i"/></g>
<g id="n35_4" class="C" transform="translate(291 1347)"><ellipse rx="17.5" ry="21.5"/><use href="#gK" class="o"/><use href="#gK" class="i"/></g>
<g id="n35_5" class="D" transform="translate(367 1347)"><ellipse rx="17.5" ry="21.5"/><use href="#gL" class="o"/><use href="#gL" class="i"/></g>
<g id="n36_1" class="B" transform="translate(101 1385)"><ellipse rx="17.5" ry="21.5"/><use href="#gK" class="o"/><use href="#gK" class="i"/></g>
<g id="n36_2" class="A" transform="translate(177 1385)"><ellipse rx="17.5" ry="21.5"/><use href="#gR" class="o"/><use href="#gR" class="i"/></g>
<g id="n36_3" class="C" transform="translate(253 1385)"><ellipse rx="17.5" ry="21.5"/><use href="#gK" class="o"/><use href="#gK" class="i"/></g>
<g id="n36_4" class="C" transform="translate(329 1385)"><ellipse rx="17.5" ry="21.5"/><use href="#gL" class="o"/><use href="#gL" class="i"/></g>
<g id="n37_1" class="D" transform="translate(63 1423)"><ellipse rx="17.5" ry="21.5"/><use href="#gR" class="o"/><use href="#gR" class="i"/></g>
<g id="n37_2" class="A" transform="translate(139 1423)"><ellipse rx="17.5" ry="21.5"/><use href="#gL" class="o"/><use href="#gL" class="i"/></g>
<g id="n37_3" class="A" transform="translate(215 1423)"><ellipse rx="17.5" ry="21.5"/><use href="#gF" class="o"/><use href="#gF" class="i"/></g>
<g id="n37_4" class="A" transform="translate(291 1423)"><ellipse rx="17.5" ry="21.5"/><use href="#gK" class="o"/><use href="#gK" class="i"/></g>
<g id="n37_5" class="D" transform="translate(367 1423)"><ellipse rx="17.5" ry="21.5"/><use href="#gL" class="o"/><use href="#gL" class="i"/></g>
<g id="n38_1" class="C" transform="translate(101 1461)"><ellipse rx="17.5" ry="21.5"/><use href="#gL" class="o"/><use href="#gL" class="i"/></g>
<g id="n38_2" class="A" transform="translate(177 1461)"><ellipse rx="17.5" ry="21.5"/><use href="#gR" class="o"/><use href="#gR" class="i"/></g>
<g id="n38_3" class="A" transform="translate(253 1461)"><ellipse rx="17.5" ry="21.5"/><use href="#gF" class="o"/><use href="#gF" class="i"/></g>
<g id="n38_4" class="C" transform="translate(329 1461)"><ellipse rx="17.5" ry="21.5"/><use href="#gK" class="o"/><use href="#gK" class="i"/></g>
<g id="n39_1" class="D" transform="translate(63 1499)"><ellipse rx="17.5" ry="21.5"/><use href="#gR" class="o"/><use href="#gR" class="i"/></g>
<g id="n39_2" class="C" transform="translate(139 1499)"><ellipse rx="17.5" ry="21.5"/><use href="#gR" class="o"/><use href="#gR" class="i"/></g>
<g id="n39_3" class="C" transform="translate(215 1499)"><ellipse rx="17.5" ry="21.5"/><use href="#gR" class="o"/><use href="#gR" class="i"/></g>
<g id="n39_4" class="A" transform="translate(291 1499)"><ellipse rx="17.5" ry="21.5"/><use href="#gF" class="o"/><use href="#gF" class="i"/></g>
<g id="n39_5" class="D" transform="translate(367 1499)"><ellipse rx="17.5" ry="21.5"/><use href="#gL" class="o"/><use href="#gL" class="i"/></g>
<g id="n40_1" class="C" transform="translate(101 1537)"><ellipse rx="17.5" ry="21.5"/><use href="#gL" class="o"/><use href="#gL" class="i"/></g>
<g id="n40_2" class="C" transform="translate(177 1537)"><ellipse rx="17.5" ry="21.5"/><use href="#gL" class="o"/><use href="#gL" class="i"/></g>
<g id="n40_3" class="C" transform="translate(253 1537)"><ellipse rx="17.5" ry="21.5"/><use href="#gK" class="o"/><use href="#gK" class="i"/></g>
<g id="n40_4" class="C" transform="translate(329 1537)"><ellipse rx="17.5" ry="21.5"/><use href="#gK" class="o"/><use href="#gK" class="i"/></g>
<g id="n41_1" class="B" transform="translate(63 1575)"><ellipse rx="17.5" ry="21.5"/><use href="#gL" class="o"/><use href="#gL" class="i"/></g>
<g id="n41_2" class="C" transform="translate(139 1575)"><ellipse rx="17.5" ry="21.5"/><use href="#gR" class="o"/><use href="#gR" class="i"/></g>
<g id="n41_3" class="C" transform="translate(215 1575)"><ellipse rx="17.5" ry="21.5"/><use href="#gF" class="o"/><use href="#gF" class="i"/></g>
<g id="n41_4" class="C" transform="translate(291 1575)"><ellipse rx="17.5" ry="21.5"/><use href="#gL" class="o"/><use href="#gL" class="i"/></g>
<g id="n41_5" class="A" transform="translate(367 1575)"><ellipse rx="17.5" ry="21.5"/><use href="#gR" class="o"/><use href="#gR" class="i"/></g>
<g id="n42_1" class="C" transform="translate(101 1613)"><ellipse rx="17.5" ry="21.5"/><use href="#gL" class="o"/><use href="#gL" class="i"/></g>
<g id="n42_2" class="A" transform="translate(177 1613)"><ellipse rx="17.5" ry="21.5"/><use href="#gR" class="o"/><use href="#gR" class="i"/></g>
<g id="n42_3" class="A" transform="translate(253 1613)"><ellipse rx="17.5" ry="21.5"/><use href="#gL" class="o"/><use href="#gL" class="i"/></g>
<g id="n42_4" class="C" transform="translate(329 1613)"><ellipse rx="17.5" ry="21.5"/><use href="#gR" class="o"/><use href="#gR" class="i"/></g>
</g>
<text class="wm" x="215.5" y="839" textLength="155" lengthAdjust="spacingAndGlyphs">BRACELETBOOK.COM</text>
</svg>
